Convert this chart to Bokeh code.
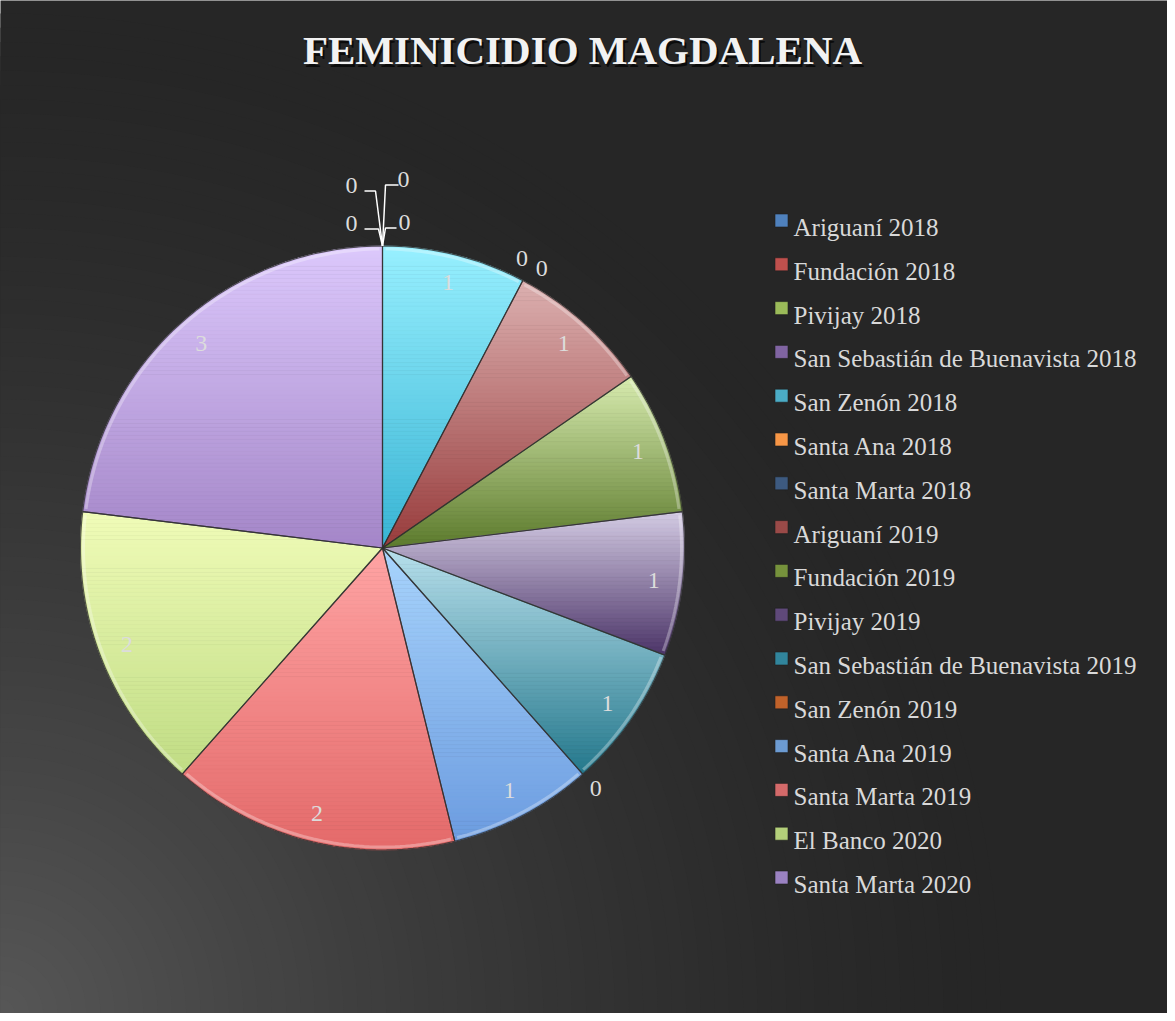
import math
from bokeh.plotting import figure
from bokeh.models import Range1d
from bokeh.core.properties import value
from bokeh.embed import file_html
from bokeh.resources import INLINE

# ---------------- data ----------------
categories = ["Ariguaní 2018", "Fundación 2018", "Pivijay 2018",
              "San Sebastián de Buenavista 2018", "San Zenón 2018", "Santa Ana 2018",
              "Santa Marta 2018", "Ariguaní 2019", "Fundación 2019", "Pivijay 2019",
              "San Sebastián de Buenavista 2019", "San Zenón 2019", "Santa Ana 2019",
              "Santa Marta 2019", "El Banco 2020", "Santa Marta 2020"]
values = [0, 0, 0, 0, 1, 0, 0, 1, 1, 1, 1, 0, 1, 2, 2, 3]
title_text = "FEMINICIDIO MAGDALENA"

# ---------------- styles ----------------
legend_colors = ["#4F81BD", "#C0504D", "#9BBB59", "#8064A2", "#4BACC6", "#F79646",
                 "#3D5A80", "#9A4A48", "#76923C", "#5F497A", "#31859C", "#C0622A",
                 "#6C9BD2", "#D46A6A", "#B3CF7A", "#9B82C2"]
grad_top = ["#a8c8f0", "#f0a8a8", "#e0f0b8", "#d0c0e8", "#98f0ff", "#ffd0a0",
            "#a8b8d8", "#dcb0b0", "#d8ecb0", "#d4cce4", "#b8e0ec", "#f0b890",
            "#a8d4fc", "#ffa4a4", "#f0fcb8", "#dcc8fc"]
grad_bot = ["#4F81BD", "#C0504D", "#9BBB59", "#8064A2", "#38b4d4", "#F79646",
            "#3D5A80", "#983c3c", "#5c7a2c", "#4c3468", "#24788c", "#B65708",
            "#6c9ce0", "#e46a6a", "#c0dc84", "#a486c8"]

W, H = 1167, 1013
CX, CY, R = 382.0, 547.5, 302.0
FONT = "Liberation Serif"


def hex2rgb(h):
    h = h.lstrip("#")
    return tuple(int(h[i:i + 2], 16) for i in (0, 2, 4))


def mix(c1, c2, t):
    a, b = hex2rgb(c1), hex2rgb(c2)
    return "#%02x%02x%02x" % tuple(int(round(a[i] + (b[i] - a[i]) * t)) for i in range(3))


def pt(ang_deg, rad):
    a = math.radians(ang_deg)
    return (CX + rad * math.sin(a), CY - rad * math.cos(a))


def clip(pts, keep, inter):
    out = []
    n = len(pts)
    for i in range(n):
        cur, prev = pts[i], pts[i - 1]
        ci, pi = keep(cur), keep(prev)
        if ci:
            if not pi:
                out.append(inter(prev, cur))
            out.append(cur)
        elif pi:
            out.append(inter(prev, cur))
    return out


def inter_y(yc):
    return lambda a, b: (a[0] + (b[0] - a[0]) * (yc - a[1]) / (b[1] - a[1]), yc)


def band(poly, y0, y1):
    p1 = clip(poly, lambda p: p[1] >= y0, inter_y(y0))
    if not p1:
        return []
    return clip(p1, lambda p: p[1] <= y1, inter_y(y1))


p = figure(width=W, height=H, x_range=Range1d(0, W), y_range=Range1d(H, 0),
           output_backend="svg", toolbar_location=None, min_border=0,
           background_fill_color="#262626", border_fill_color="#262626")
p.axis.visible = False
p.grid.visible = False
p.outline_line_color = None

# ---------- background radial gradient from bottom-left ----------
BG_R = 1000.0
steps = 70
for k in range(steps):
    rr = BG_R * (1 - k / steps)
    t = (1 - rr / BG_R) ** 1.5
    col = mix("#262626", "#575757", t)
    p.circle(x=[0], y=[H], radius=rr, fill_color=col, line_color=None)

# ---------- pie slices with vertical gradients ----------
total = float(sum(values))
angles = []
acc = 0.0
for v in values:
    a0 = acc / total * 360.0
    acc += v
    a1 = acc / total * 360.0
    angles.append((a0, a1))

bx, by, bc = [], [], []
ox, oy = [], []
rimx, rimy = [], []
for i, v in enumerate(values):
    if v <= 0:
        continue
    a0, a1 = angles[i]
    n = max(8, int(a1 - a0))
    poly = [(CX, CY)] + [pt(a0 + (a1 - a0) * j / n, R) for j in range(n + 1)]
    ys = [q[1] for q in poly]
    ymin, ymax = min(ys), max(ys)
    nb = max(10, int((ymax - ymin) / 4))
    for b in range(nb):
        y0 = ymin + (ymax - ymin) * b / nb
        y1 = ymin + (ymax - ymin) * (b + 1) / nb
        seg = band(poly, y0, y1)
        if len(seg) < 3:
            continue
        tcol = mix(grad_top[i], grad_bot[i], (b + 0.5) / nb)
        bx.append([q[0] for q in seg])
        by.append([q[1] for q in seg])
        bc.append(tcol)
    ox.append([q[0] for q in poly])
    oy.append([q[1] for q in poly])
    rim = [pt(a0 + 0.6 + (a1 - a0 - 1.2) * j / n, R - 3) for j in range(n + 1)]
    rimx.append([q[0] for q in rim])
    rimy.append([q[1] for q in rim])

p.patches(bx, by, fill_color=bc, line_color=bc, line_width=0.8)
p.multi_line(rimx, rimy, line_color="white", line_alpha=0.3, line_width=3)
p.patches(ox, oy, fill_color=None, line_color="#303030", line_alpha=0.8, line_width=1.2)

# ---------- value labels ----------
lx, ly, lt = [], [], []
zero_groups = {}
for i, v in enumerate(values):
    a0, a1 = angles[i]
    if v > 0:
        x, y = pt((a0 + a1) / 2, 0.905 * R)
        lx.append(x); ly.append(y); lt.append(str(v))
    else:
        zero_groups.setdefault(round(a0, 6), []).append(i)

# label centre offsets from the pie's top point, and leader-line knee offsets
top_offsets = [(-31, -23, 13, 27), (-31, -61, 13, 24), (21, -67, -5, -18), (22, -24, -8, -19)]
lead_x, lead_y = [], []
for ang, idxs in zero_groups.items():
    if ang == 0.0 and len(idxs) >= 3:
        tx, ty = pt(0, R)
        for j, i in enumerate(idxs):
            dx, dy, k0, k1 = top_offsets[j % len(top_offsets)]
            x, y = tx + dx, ty + dy
            lx.append(x); ly.append(y); lt.append(str(values[i]))
            lead_x.append([x + k0, x + k1, tx])
            lead_y.append([y + 6, y + 6, ty])
    else:
        k = len(idxs)
        for j, i in enumerate(idxs):
            off = (j - (k - 1) / 2.0) * 4.0
            x, y = pt(ang + off, 1.065 * R)
            lx.append(x); ly.append(y); lt.append(str(values[i]))

p.multi_line(lead_x, lead_y, line_color="white", line_width=1.5)
p.text(x=lx, y=ly, text=lt, text_font=value(FONT), text_font_size="24px",
       text_color="#dcdcdc", text_align="center", text_baseline="middle")

# ---------- title ----------
TX, TY = 582, 49
p.text(x=[TX + 2], y=[TY + 3], text=[title_text], text_font=value(FONT),
       text_font_size="41px", text_font_style="bold", text_color="black",
       text_alpha=0.7, text_align="center", text_baseline="middle")
p.text(x=[TX], y=[TY], text=[title_text], text_font=value(FONT),
       text_font_size="41px", text_font_style="bold", text_color="#f2f2f2",
       text_align="center", text_baseline="middle")

# ---------- legend ----------
LX, LY0, LDY = 781, 220, 43.8
sx = [LX] * len(categories)
sy = [LY0 + i * LDY for i in range(len(categories))]
p.rect(x=sx, y=sy, width=13, height=13, fill_color=legend_colors,
       line_color="#202020", line_width=0.6)
p.text(x=[LX + 12] * len(categories), y=[LY0 + 7 + i * LDY for i in range(len(categories))],
       text=categories, text_font=value(FONT), text_font_size="25px",
       text_color="#d9d9d9", text_align="left", text_baseline="alphabetic")

open("out.html", "w").write(file_html(p, INLINE))
